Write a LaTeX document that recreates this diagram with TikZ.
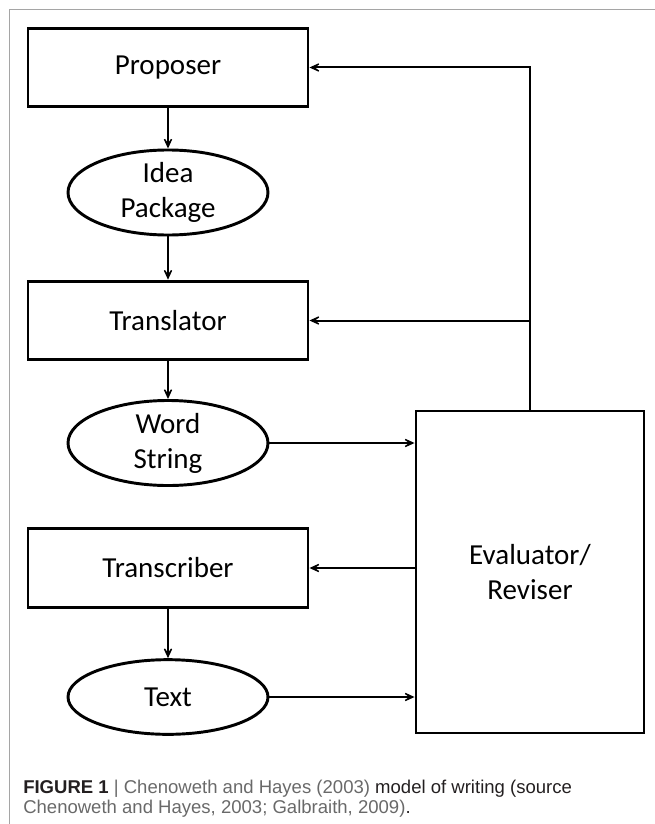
\documentclass[tikz,border=0pt]{standalone}
\usepackage{fontspec}
\setmainfont{Carlito}
\newfontfamily\capfont{Liberation Sans}
\usetikzlibrary{shapes.geometric,arrows.meta}

\definecolor{capgray}{RGB}{105,105,105}
\definecolor{capdark}{RGB}{35,31,32}
\definecolor{framegray}{RGB}{165,165,165}
\newcommand{\diagfont}{\fontsize{21.75}{26.25}\selectfont}

\tikzset{
  procbox/.style={draw, line width=2.2pt, minimum width=210pt, minimum height=59pt, inner sep=0pt, font=\diagfont},
  datanode/.style={ellipse, draw, line width=2.2pt, minimum width=150pt, minimum height=56pt, inner sep=0pt, align=center, font=\diagfont},
  flow/.style={-{Stealth[length=12pt,width=11pt,inset=8pt]}, line width=1.5pt},
  caption/.style={anchor=base west, inner sep=0pt, font=\capfont\fontsize{13.9}{18}\selectfont},
}

\begin{document}
\begin{tikzpicture}[x=0.75pt,y=-0.75pt]
\useasboundingbox (0,0) rectangle (655,824);

% Frame
\draw[framegray, line width=1.1pt] (655,9.5) -- (9.5,9.5) -- (9.5,824);

% Processes
\node[procbox] (prop) at (168,67.5) {Proposer};
\node[procbox] (trans) at (168,320.5) {Translator};
\node[procbox] (transc) at (168,568) {Transcriber};
\node[procbox, minimum width=171pt, minimum height=241.5pt, align=center] (eval) at (530,572) {Evaluator/\\Reviser};

% Data
\node[datanode] (idea) at (168,192.5) {Idea\\Package};
\node[datanode] (word) at (168,443) {Word\\String};
\node[datanode] (text) at (168,697) {Text};

% Main flow
\draw[flow] (prop) -- (idea);
\draw[flow] (idea) -- (trans);
\draw[flow] (trans) -- (word);
\draw[flow] (transc) -- (text);

% Into evaluator
\draw[flow] (word.east) -- (word.east -| eval.west);
\draw[flow] (text.east) -- (text.east -| eval.west);

% Feedback
\coordinate (fb) at (eval.north |- trans.east);
\draw[flow] (eval.north) |- (prop.east);
\draw[flow] (fb) -- (trans.east);
\draw[flow] (transc.east -| eval.west) -- (transc.east);

% Caption
\node[caption] (cap1) at (23,793) {\textcolor{capdark}{\textbf{FIGURE 1}} \textcolor{capgray}{|} \textcolor{capgray}{Chenoweth and Hayes (2003)} \textcolor{capdark}{model of writing (source}};
\node[caption] (cap2) at (23,813) {\textcolor{capgray}{Chenoweth and Hayes, 2003; Galbraith, 2009)}\textcolor{capdark}{.}};

\end{tikzpicture}
\end{document}
